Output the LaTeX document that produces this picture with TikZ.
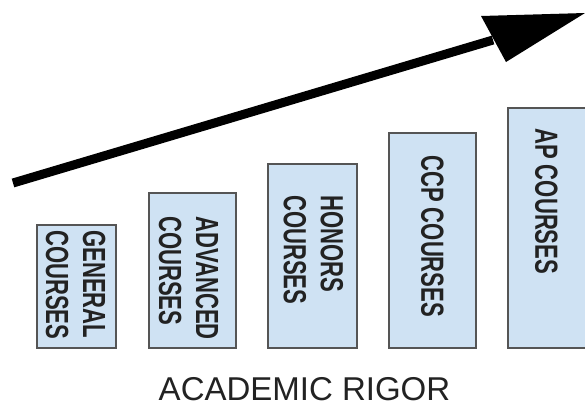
\documentclass[tikz,border=0pt]{standalone}
\usepackage{fontspec}
\setmainfont{Liberation Sans}
\newfontfamily\boxfont[FakeStretch=0.69]{Liberation Sans Bold}
\definecolor{boxfill}{HTML}{CFE2F3}
\definecolor{boxline}{HTML}{555555}
\definecolor{txt}{HTML}{222222}
\tikzset{
  course/.style={draw=boxline, fill=boxfill, line width=1.5pt},
  coursetext/.style={rotate=-90, anchor=west, inner sep=0pt, align=left,
    text=txt, font=\boxfont\fontsize{32}{37}\selectfont}
}
\begin{document}
\begin{tikzpicture}[x=1pt,y=-1pt]
\clip (0,0) rectangle (585,408);
\fill[white] (0,0) rectangle (585,408);
% boxes
\draw[course] (37,225) rectangle (116,348);
\draw[course] (149,193) rectangle (236,348);
\draw[course] (268,164) rectangle (357,348);
\draw[course] (389,133) rectangle (476,348);
\draw[course] (508,108) rectangle (597,348);
% texts
\node[coursetext] (gen) at (75.75,230) {GENERAL\\COURSES};
\node[coursetext] (adv) at (188.75,216) {ADVANCED\\COURSES};
\node[coursetext] (hon) at (313.5,195) {HONORS\\COURSES};
\node[coursetext] (ccp) at (432.5,155) {CCP COURSES};
\node[coursetext] (ap) at (546.5,128) {AP COURSES};
% arrow
\coordinate (tail) at (13,183);
\coordinate (base) at (493,40);
\draw[line width=9pt, line cap=butt] (tail) -- (base);
\fill (481,16) -- (585,13) -- (506,62) -- cycle;
% label
\node[font=\fontsize{33}{38}\selectfont, text=txt, inner sep=0pt, anchor=base] (rigor) at (304.5,400.5) {ACADEMIC RIGOR};
\end{tikzpicture}
\end{document}
